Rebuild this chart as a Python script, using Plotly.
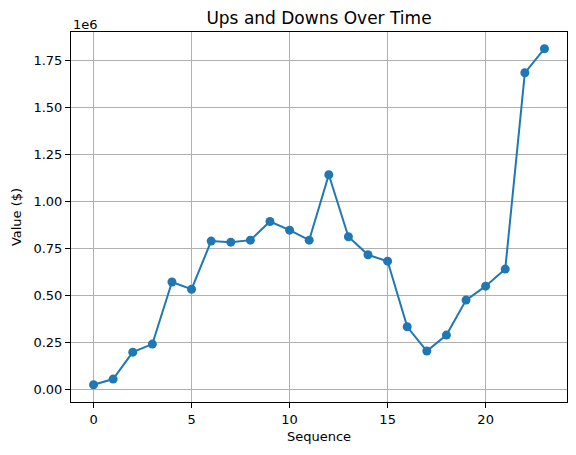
import plotly.graph_objects as go

# data
sequence = list(range(24))
values = [27000, 57000, 200000, 243000, 573000, 535000, 791000, 785000,
          796000, 895000, 849000, 796000, 1144000, 814000, 718000, 684000,
          335000, 206000, 291000, 477000, 551000, 642000, 1686000, 1814000]

y_tickvals = [0, 250000, 500000, 750000, 1000000, 1250000, 1500000, 1750000]
y_ticktext = ["0.00", "0.25", "0.50", "0.75", "1.00", "1.25", "1.50", "1.75"]
x_tickvals = [0, 5, 10, 15, 20]

font_family = "DejaVu Sans"

# the page body has an 8px margin, so the margins below are shifted by it
fig = go.Figure()
fig.add_trace(go.Scatter(
    x=sequence,
    y=values,
    mode='lines+markers',
    line=dict(color='#1f77b4', width=2),
    marker=dict(color='#1f77b4', size=9),
    showlegend=False
))

axis_common = dict(
    showline=True, linecolor='black', linewidth=1, mirror=True,
    showgrid=True, gridcolor='#b0b0b0', gridwidth=1,
    ticks='outside', ticklen=5, tickcolor='black', tickwidth=1,
    zeroline=False, automargin=False,
    tickfont=dict(family=font_family, size=13, color='black'),
)

fig.update_xaxes(
    range=[-1.15, 24.15],
    tickvals=x_tickvals,
    title=dict(text='Sequence', font=dict(family=font_family, size=13, color='black'), standoff=6),
    **axis_common
)
fig.update_yaxes(
    range=[-65000, 1903000],
    tickvals=y_tickvals,
    ticktext=y_ticktext,
    title=dict(text='Value ($)', font=dict(family=font_family, size=13, color='black'), standoff=8),
    **axis_common
)

fig.update_layout(
    width=576,
    height=455,
    margin=dict(l=63, r=17, t=24, b=61, autoexpand=False),
    paper_bgcolor='white',
    plot_bgcolor='white',
    title=dict(text='Ups and Downs Over Time', x=311 / 576, xanchor='center',
               y=1 - 10 / 455, yanchor='middle',
               font=dict(family=font_family, size=17, color='black')),
    annotations=[dict(text='1e6', xref='paper', yref='paper', x=0, y=1,
                      xanchor='left', yanchor='bottom', yshift=-2, showarrow=False,
                      font=dict(family=font_family, size=13, color='black'))]
)

fig.write_html("out.html")
